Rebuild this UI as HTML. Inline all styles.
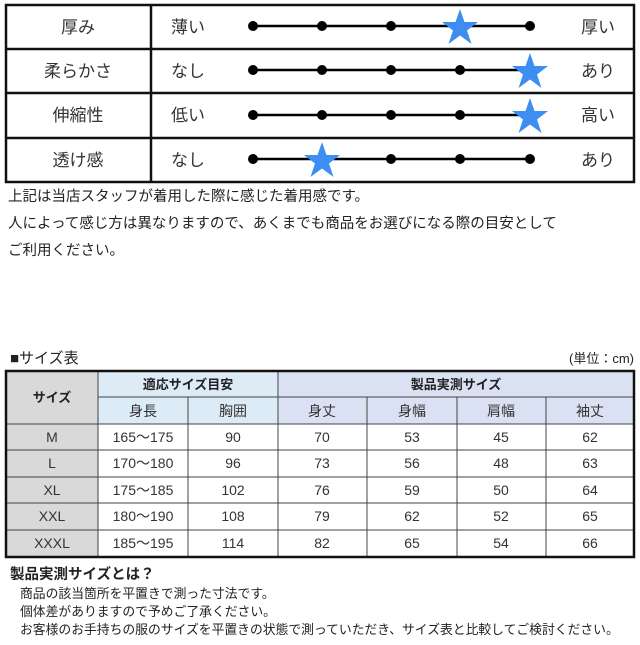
<!DOCTYPE html>
<html><head><meta charset="utf-8"><style>
body{margin:0;background:#fff;width:640px;height:640px;overflow:hidden;font-family:"Liberation Sans","Noto Sans CJK JP",sans-serif;}
svg text{font-family:"Liberation Sans","Noto Sans CJK JP",sans-serif;}
</style></head><body>
<svg width="640" height="640" viewBox="0 0 640 640" xmlns="http://www.w3.org/2000/svg">
<defs>
<polygon id="st" points="0,-19 4.5,-6 18,-6 7,2.5 11.5,16 0,7.5 -11.5,16 -7,2.5 -18,-6 -4.5,-6" fill="#3d8ef0"/>
</defs>
<g stroke="#111" fill="none">
<rect x="6" y="5" width="628" height="177" stroke-width="2.5"/>
<line x1="151" y1="5" x2="151" y2="182" stroke-width="2.5"/>
<line x1="6" y1="49" x2="634" y2="49" stroke-width="2.5"/>
<line x1="6" y1="93" x2="634" y2="93" stroke-width="2.5"/>
<line x1="6" y1="138" x2="634" y2="138" stroke-width="2.5"/>
</g>
<g font-size="17" fill="#333" text-anchor="middle">
<text x="78" y="33">厚み</text><text x="78" y="77">柔らかさ</text><text x="78" y="121">伸縮性</text><text x="78" y="166">透け感</text>
<text x="188" y="33">薄い</text><text x="188" y="77">なし</text><text x="188" y="121">低い</text><text x="188" y="166">なし</text>
<text x="598" y="33">厚い</text><text x="598" y="77">あり</text><text x="598" y="121">高い</text><text x="598" y="166">あり</text>
</g>
<g stroke="#000" stroke-width="2.5">
<line x1="253" y1="26" x2="530" y2="26"/><line x1="253" y1="70" x2="530" y2="70"/>
<line x1="253" y1="115" x2="530" y2="115"/><line x1="253" y1="159" x2="530" y2="159"/>
</g>
<g fill="#000">
<circle cx="253" cy="26" r="5"/><circle cx="322" cy="26" r="5"/><circle cx="391" cy="26" r="5"/><circle cx="530" cy="26" r="5"/>
<circle cx="253" cy="70" r="5"/><circle cx="322" cy="70" r="5"/><circle cx="391" cy="70" r="5"/><circle cx="460" cy="70" r="5"/>
<circle cx="253" cy="115" r="5"/><circle cx="322" cy="115" r="5"/><circle cx="391" cy="115" r="5"/><circle cx="460" cy="115" r="5"/>
<circle cx="253" cy="159" r="5"/><circle cx="391" cy="159" r="5"/><circle cx="460" cy="159" r="5"/><circle cx="530" cy="159" r="5"/>
</g>
<use href="#st" x="460" y="28"/><use href="#st" x="530" y="72"/><use href="#st" x="530" y="117"/><use href="#st" x="322" y="161"/>
<g font-size="14.5" fill="#222">
<text x="8" y="201">上記は当店スタッフが着用した際に感じた着用感です。</text>
<text x="8" y="228">人によって感じ方は異なりますので、あくまでも商品をお選びになる際の目安として</text>
<text x="8" y="255">ご利用ください。</text>
</g>
<text x="10" y="363" font-size="15" fill="#222">■サイズ表</text>
<text x="634" y="363" font-size="13" fill="#222" text-anchor="end">(単位：cm)</text>
<rect x="6" y="371" width="92" height="186" fill="#d9d9d9"/>
<rect x="98" y="371" width="180" height="53" fill="#ddebf7"/>
<rect x="278" y="371" width="356" height="53" fill="#dae1f2"/>
<g stroke="#444" stroke-width="1">
<line x1="98" y1="397" x2="634" y2="397"/>
<line x1="6" y1="424" x2="634" y2="424"/><line x1="6" y1="450" x2="634" y2="450"/>
<line x1="6" y1="477" x2="634" y2="477"/><line x1="6" y1="503" x2="634" y2="503"/><line x1="6" y1="530" x2="634" y2="530"/>
<line x1="98" y1="371" x2="98" y2="557"/><line x1="278" y1="371" x2="278" y2="557"/>
<line x1="188" y1="397" x2="188" y2="557"/><line x1="367" y1="397" x2="367" y2="557"/>
<line x1="457" y1="397" x2="457" y2="557"/><line x1="546" y1="397" x2="546" y2="557"/>
</g>
<rect x="6" y="371" width="628" height="186" fill="none" stroke="#111" stroke-width="2.5"/>
<g font-size="13" fill="#222" text-anchor="middle" font-weight="bold">
<text x="52" y="402">サイズ</text><text x="188" y="389">適応サイズ目安</text><text x="456" y="389">製品実測サイズ</text>
</g>
<g font-size="14" fill="#333" text-anchor="middle">
<text x="143" y="416">身長</text><text x="233" y="416">胸囲</text><text x="322" y="416">身丈</text><text x="412" y="416">身幅</text><text x="501" y="416">肩幅</text><text x="590" y="416">袖丈</text>
<text x="52" y="442">M</text><text x="143" y="442">165～175</text><text x="233" y="442">90</text><text x="322" y="442">70</text><text x="412" y="442">53</text><text x="501" y="442">45</text><text x="590" y="442">62</text>
<text x="52" y="468">L</text><text x="143" y="468">170～180</text><text x="233" y="468">96</text><text x="322" y="468">73</text><text x="412" y="468">56</text><text x="501" y="468">48</text><text x="590" y="468">63</text>
<text x="52" y="495">XL</text><text x="143" y="495">175～185</text><text x="233" y="495">102</text><text x="322" y="495">76</text><text x="412" y="495">59</text><text x="501" y="495">50</text><text x="590" y="495">64</text>
<text x="52" y="521">XXL</text><text x="143" y="521">180～190</text><text x="233" y="521">108</text><text x="322" y="521">79</text><text x="412" y="521">62</text><text x="501" y="521">52</text><text x="590" y="521">65</text>
<text x="52" y="548">XXXL</text><text x="143" y="548">185～195</text><text x="233" y="548">114</text><text x="322" y="548">82</text><text x="412" y="548">65</text><text x="501" y="548">54</text><text x="590" y="548">66</text>
</g>
<text x="10" y="579" font-size="14.5" font-weight="bold" fill="#222">製品実測サイズとは？</text>
<g font-size="12.8" fill="#222">
<text x="20" y="598">商品の該当箇所を平置きで測った寸法です。</text>
<text x="20" y="616">個体差がありますので予めご了承ください。</text>
<text x="20" y="634">お客様のお手持ちの服のサイズを平置きの状態で測っていただき、サイズ表と比較してご検討ください。</text>
</g>
</svg>
</body></html>
